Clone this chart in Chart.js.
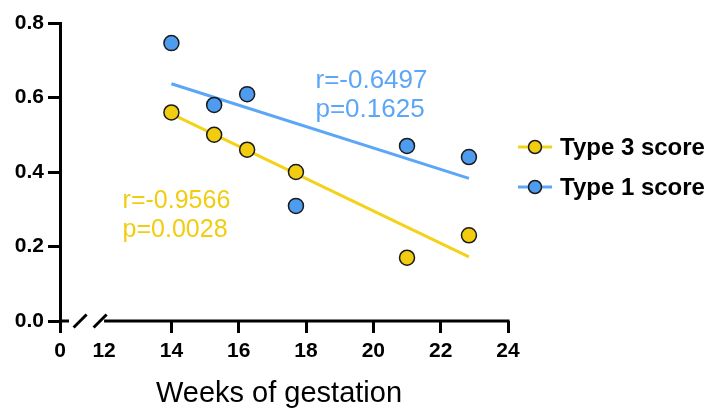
<!DOCTYPE html>
<html lang="en">
<head>
  <meta charset="UTF-8">
  <title>Weeks of gestation</title>
  <script src="https://cdn.jsdelivr.net/npm/chart.js"></script>
  <style>
    body { margin: 0; background: #fff; }
    canvas { display: block; }
  </style>
</head>
<body>
  <canvas id="grafico" width="710" height="411"></canvas>
<script>
  // semanas de gestação e escores
  const semanas = [14, 15.27, 16.25, 17.7, 21.0, 22.84];
  const type3 = [0.56, 0.50, 0.46, 0.40, 0.17, 0.23];
  const type1 = [0.746, 0.58, 0.609, 0.309, 0.47, 0.44];

  // retas de regressão (início / fim)
  const retaX = [14, 22.84];
  const retaType3 = [0.556, 0.172];
  const retaType1 = [0.637, 0.383];

  const xTicks = [12, 14, 16, 18, 20, 22, 24];
  const yTicks = [0, 0.2, 0.4, 0.6, 0.8];

  const textoType3 = ['r=-0.9566', 'p=0.0028'];
  const textoType1 = ['r=-0.6497', 'p=0.1625'];
  const legendas = ['Type 3 score', 'Type 1 score'];

  const amarelo = '#F2CD0F';
  const azul = '#4E9CF0';
  const amareloLinha = '#F4D21A';
  const azulLinha = '#5CA6F7';

  // onde o "0" fica antes da quebra do eixo
  const inicioEixo = 10.69;

  const pontos = (xs, ys) => xs.map((x, i) => ({ x: x, y: ys[i] }));

  // quebra do eixo x, textos r/p e legenda
  const extras = {
    id: 'extras',
    afterDraw(chart) {
      const c = chart.ctx;
      const xs = chart.scales.x;
      const ys = chart.scales.y;
      const area = chart.chartArea;
      const y0 = area.bottom;
      const p12 = xs.getPixelForValue(12);

      c.save();
      c.strokeStyle = '#000';
      c.lineWidth = 3;
      c.beginPath();
      c.moveTo(area.left - 1, y0);
      c.lineTo(area.left + 9, y0);
      c.moveTo(p12, y0);
      c.lineTo(area.right + 1.5, y0);
      [p12 - 24, p12 - 4].forEach(cx => {
        c.moveTo(cx - 6.5, y0 + 6.5);
        c.lineTo(cx + 6.5, y0 - 6.5);
      });
      c.stroke();

      c.textAlign = 'left';
      c.textBaseline = 'alphabetic';
      c.font = '26px "Liberation Sans", Arial, sans-serif';
      c.fillStyle = azulLinha;
      c.fillText(textoType1[0], xs.getPixelForValue(18.28), ys.getPixelForValue(0.625));
      c.fillText(textoType1[1], xs.getPixelForValue(18.28), ys.getPixelForValue(0.547));
      c.font = '25px "Liberation Sans", Arial, sans-serif';
      c.fillStyle = amarelo;
      c.fillText(textoType3[0], xs.getPixelForValue(12.55), ys.getPixelForValue(0.303));
      c.fillText(textoType3[1], xs.getPixelForValue(12.55), ys.getPixelForValue(0.225));

      // legenda
      const cores = [[amareloLinha, amarelo], [azulLinha, azul]];
      const lx = area.right + 10;
      c.font = 'bold 24px "Liberation Sans", Arial, sans-serif';
      c.textBaseline = 'middle';
      legendas.forEach((txt, i) => {
        const ly = 147 + i * 40;
        c.strokeStyle = cores[i][0];
        c.lineWidth = 3;
        c.beginPath();
        c.moveTo(lx, ly);
        c.lineTo(lx + 34, ly);
        c.stroke();
        c.beginPath();
        c.arc(lx + 17, ly, 6.5, 0, Math.PI * 2);
        c.fillStyle = cores[i][1];
        c.fill();
        c.strokeStyle = '#1a1a1a';
        c.lineWidth = 1.5;
        c.stroke();
        c.fillStyle = '#000';
        c.fillText(txt, lx + 42, ly + 1);
      });

      // título do eixo x
      c.font = '29px "Liberation Sans", Arial, sans-serif';
      c.textAlign = 'center';
      c.textBaseline = 'alphabetic';
      c.fillText('Weeks of gestation', (area.left + area.right) / 2 - 5, 402);
      c.restore();
    }
  };

  const ctx = document.getElementById('grafico').getContext('2d');
  const grafico = new Chart(ctx, {
    type: 'scatter',
    data: {
      datasets: [
        {
          label: legendas[0],
          data: pontos(semanas, type3),
          backgroundColor: amarelo,
          borderColor: '#1a1a1a',
          borderWidth: 1.5,
          pointRadius: 7.5,
          order: 1
        },
        {
          label: legendas[1],
          data: pontos(semanas, type1),
          backgroundColor: azul,
          borderColor: '#1a1a1a',
          borderWidth: 1.5,
          pointRadius: 7.5,
          order: 1
        },
        {
          label: 'reta3',
          data: pontos(retaX, retaType3),
          showLine: true,
          borderColor: amareloLinha,
          borderWidth: 3,
          pointRadius: 0,
          order: 2
        },
        {
          label: 'reta1',
          data: pontos(retaX, retaType1),
          showLine: true,
          borderColor: azulLinha,
          borderWidth: 3,
          pointRadius: 0,
          order: 2
        }
      ]
    },
    options: {
      responsive: false,
      animation: false,
      devicePixelRatio: 1,
      clip: false,
      layout: { padding: { top: 23, right: 202, left: 0, bottom: 0 } },
      plugins: {
        legend: { display: false },
        tooltip: { enabled: false }
      },
      scales: {
        x: {
          type: 'linear',
          min: inicioEixo,
          max: 24,
          afterBuildTicks: s => {
            s.ticks = [{ value: inicioEixo }].concat(xTicks.map(v => ({ value: v })));
          },
          afterFit: s => { s.height = 90; },
          border: { display: false },
          grid: {
            drawOnChartArea: false,
            drawTicks: true,
            tickLength: 12,
            tickWidth: 3,
            tickColor: c => (c.tick && c.tick.value === 12) ? 'rgba(0,0,0,0)' : '#000'
          },
          ticks: {
            color: '#000',
            padding: 6,
            maxRotation: 0,
            autoSkip: false,
            font: { family: '"Liberation Sans", Arial, sans-serif', size: 21, weight: 'bold' },
            callback: v => v < 12 ? '0' : String(v)
          }
        },
        y: {
          min: 0,
          max: 0.8,
          afterBuildTicks: s => {
            s.ticks = yTicks.map(v => ({ value: v }));
          },
          afterFit: s => { s.width = 60; },
          border: { display: true, color: '#000', width: 3 },
          grid: {
            drawOnChartArea: false,
            drawTicks: true,
            tickLength: 12,
            tickWidth: 3,
            tickColor: '#000'
          },
          ticks: {
            color: '#000',
            padding: 4,
            font: { family: '"Liberation Sans", Arial, sans-serif', size: 21, weight: 'bold' },
            callback: v => v.toFixed(1)
          }
        }
      }
    },
    plugins: [extras]
  });
</script>
</body>
</html>
